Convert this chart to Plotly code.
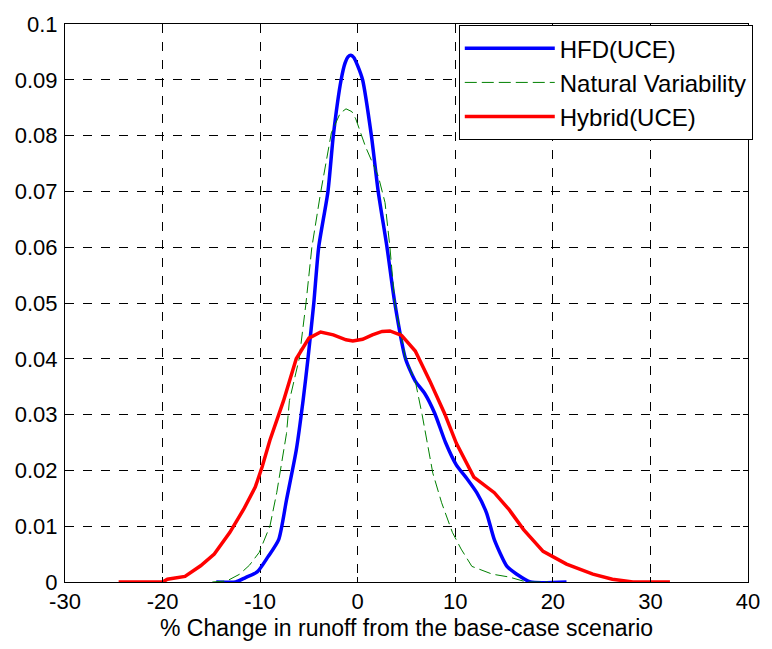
import plotly.graph_objects as go

hfd_x = [-14.5, -12.5, -11.5, -10.3, -9.2, -8.1, -7.3, -6.3, -5.6, -5.1, -4.5, -4.0, -3.05, -2.5, -1.7, -1.3,
         -1.0, -0.7, -0.4, 0.0, 0.5, 1.4, 2.1, 3.0, 3.8, 4.9, 5.9, 6.9, 7.9, 9.0, 10.1, 11.2, 12.2, 13.2, 14.0,
         15.3, 16.3, 17.7, 21.4]
hfd_y = [0, 0, 0.0008, 0.0018, 0.0045, 0.0076, 0.0147, 0.0236, 0.0325, 0.040, 0.050, 0.060, 0.070, 0.080,
         0.090, 0.0930, 0.0941, 0.0944, 0.0940, 0.0925, 0.090, 0.080, 0.070, 0.060, 0.050, 0.040, 0.036, 0.0337,
         0.0302, 0.025, 0.021, 0.0185, 0.016, 0.0124, 0.0076, 0.0028, 0.0014, 0, 0]

nat_x = [-14.9, -13.4, -12.1, -11.1, -10.1, -9.0, -8.3, -7.3, -7.0, -6.0, -5.3, -4.7, -3.8, -2.7, -1.8, -1.2,
         -0.6, -0.2, 0.8, 2.1, 2.8, 3.3, 3.8, 4.9, 5.9, 6.6, 7.7, 8.6, 9.7, 10.6, 11.7, 13.8, 15.5, 17.3, 19.5]
nat_y = [0, 0.0002, 0.0014, 0.003, 0.0053, 0.010, 0.016, 0.0266, 0.0325, 0.040, 0.050, 0.060, 0.0698, 0.0805,
         0.0840, 0.0848, 0.0843, 0.083, 0.078, 0.0728, 0.068, 0.060, 0.050, 0.040, 0.036, 0.030, 0.0195, 0.0142,
         0.0089, 0.0059, 0.0028, 0.0014, 0.0009, 0, 0]

hyb_x = [-24.5, -20, -19.5, -17.7, -16.1, -14.7, -13.1, -11.7, -10.5, -9.8, -9.0, -8.1, -7.6, -6.3, -5.0, -3.8,
         -2.5, -1.2, -0.5, 0.5, 1.5, 2.5, 3.3, 4.5, 5.9, 7.4, 8.9, 10.1, 11.9, 14.0, 15.5, 17.0, 19.0, 21.4,
         24.1, 26.1, 28.2, 32]
hyb_y = [0, 0, 0.0005, 0.001, 0.0029, 0.005, 0.0089, 0.013, 0.017, 0.0206, 0.0254, 0.030, 0.0325, 0.040, 0.0437,
         0.0448, 0.0443, 0.0434, 0.0432, 0.0435, 0.0443, 0.0449, 0.045, 0.0442, 0.0414, 0.036, 0.0302, 0.0249,
         0.0188, 0.016, 0.013, 0.0094, 0.0055, 0.0032, 0.0014, 0.0005, 0, 0]

x_ticks = [-30, -20, -10, 0, 10, 20, 30, 40]
y_ticks = [0, 0.01, 0.02, 0.03, 0.04, 0.05, 0.06, 0.07, 0.08, 0.09, 0.1]
y_labels = ["0", "0.01", "0.02", "0.03", "0.04", "0.05", "0.06", "0.07", "0.08", "0.09", "0.1"]

fig = go.Figure()
fig.add_trace(go.Scatter(x=hfd_x, y=hfd_y, mode="lines", name="HFD(UCE)",
                         line=dict(color="#0000ff", width=3.5, shape="spline", smoothing=0.6)))
fig.add_trace(go.Scatter(x=nat_x, y=nat_y, mode="lines", name="Natural Variability",
                         line=dict(color="#008000", width=1, dash="12px,5px")))
fig.add_trace(go.Scatter(x=hyb_x, y=hyb_y, mode="lines", name="Hybrid(UCE)",
                         line=dict(color="#ff0000", width=3.5)))

font = "Liberation Sans, Arial, sans-serif"
axis_common = dict(showline=True, linecolor="black", linewidth=1, mirror="ticks", ticks="inside",
                   ticklen=5, tickcolor="black", showgrid=True, gridcolor="black", griddash="dash",
                   gridwidth=1, zeroline=False, tickfont=dict(family=font, size=22, color="black"))

fig.update_xaxes(range=[-30, 40], tickvals=x_ticks, ticktext=[str(v) for v in x_ticks],
                 title=dict(text="% Change in runoff from the base-case scenario",
                            font=dict(family=font, size=23, color="black"), standoff=6),
                 **axis_common)
fig.update_yaxes(range=[0, 0.1], tickvals=y_ticks, ticktext=y_labels, ticklabelstandoff=2, **axis_common)

fig.update_layout(
    width=772, height=649,
    margin=dict(l=65, r=14, t=22, b=65),
    paper_bgcolor="white", plot_bgcolor="white",
    font=dict(family=font, size=22, color="black"),
    legend=dict(x=1.007, xanchor="right", y=0.998, yanchor="top", bgcolor="white",
                bordercolor="black", borderwidth=1, itemwidth=90,
                font=dict(family=font, size=24, color="black")),
)

fig.write_html("out.html")
